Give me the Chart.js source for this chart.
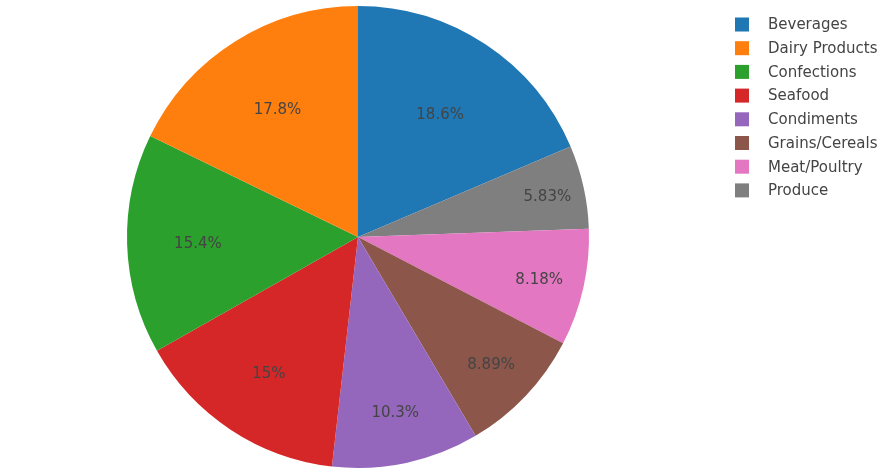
<!DOCTYPE html>
<html>
<head>
<meta charset="utf-8">
<script src="https://cdn.jsdelivr.net/npm/chart.js@4/dist/chart.umd.min.js"></script>
<style>
  html, body { margin: 0; padding: 0; background: #fff; }
  #wrap { position: relative; width: 895px; height: 475px; }
</style>
</head>
<body>
<div id="wrap"><canvas id="pie"></canvas></div>
<script>
// slices, clockwise from 12 o'clock
var categories = ["Beverages", "Produce", "Meat/Poultry", "Grains/Cereals", "Condiments", "Seafood", "Confections", "Dairy Products"];
var shares = [18.6, 5.83, 8.18, 8.89, 10.3, 15, 15.4, 17.8];
var sliceColors = ["#1f77b4", "#7f7f7f", "#e377c2", "#8c564b", "#9467bd", "#d62728", "#2ca02c", "#ff7f0e"];
// legend reads in this order
var legendOrder = ["Beverages", "Dairy Products", "Confections", "Seafood", "Condiments", "Grains/Cereals", "Meat/Poultry", "Produce"];

var FONT = "'DejaVu Sans', Verdana, sans-serif";

// percent text inside each slice, pushed outwards for thin slices
var sliceText = {
    id: 'sliceText',
    afterDatasetsDraw: function (chart) {
        var ctx = chart.ctx;
        var meta = chart.getDatasetMeta(0);
        ctx.save();
        ctx.font = "15px " + FONT;
        ctx.fillStyle = "#444";
        ctx.textAlign = "center";
        ctx.textBaseline = "middle";
        meta.data.forEach(function (arc, i) {
            var p = arc.getProps(['x', 'y', 'startAngle', 'endAngle', 'outerRadius']);
            var mid = (p.startAngle + p.endAngle) / 2;
            var frac = 0.929 - 0.0153 * shares[i];
            var d = p.outerRadius * frac;
            ctx.fillText(shares[i] + "%", p.x + Math.cos(mid) * d, p.y + Math.sin(mid) * d + 2);
        });
        ctx.restore();
    }
};

// legend on the right
var sideLegend = {
    id: 'sideLegend',
    afterDraw: function (chart) {
        var ctx = chart.ctx;
        ctx.save();
        ctx.font = "15px " + FONT;
        ctx.textBaseline = "middle";
        legendOrder.forEach(function (name, k) {
            var i = categories.indexOf(name);
            var y = 24.5 + k * 23.7;
            ctx.fillStyle = sliceColors[i];
            ctx.fillRect(735, y - 7, 14, 14);
            ctx.fillStyle = "#444";
            ctx.fillText(name, 768, y + 1);
        });
        ctx.restore();
    }
};

new Chart(document.getElementById('pie'), {
    type: 'pie',
    data: {
        labels: categories,
        datasets: [{
            data: shares,
            backgroundColor: sliceColors,
            borderWidth: 0
        }]
    },
    options: {
        responsive: true,
        maintainAspectRatio: false,
        animation: false,
        layout: { padding: { left: 127, right: 306, top: 6, bottom: 7 } },
        plugins: {
            legend: { display: false },
            tooltip: { enabled: false }
        }
    },
    plugins: [sliceText, sideLegend]
});
</script>
</body>
</html>
